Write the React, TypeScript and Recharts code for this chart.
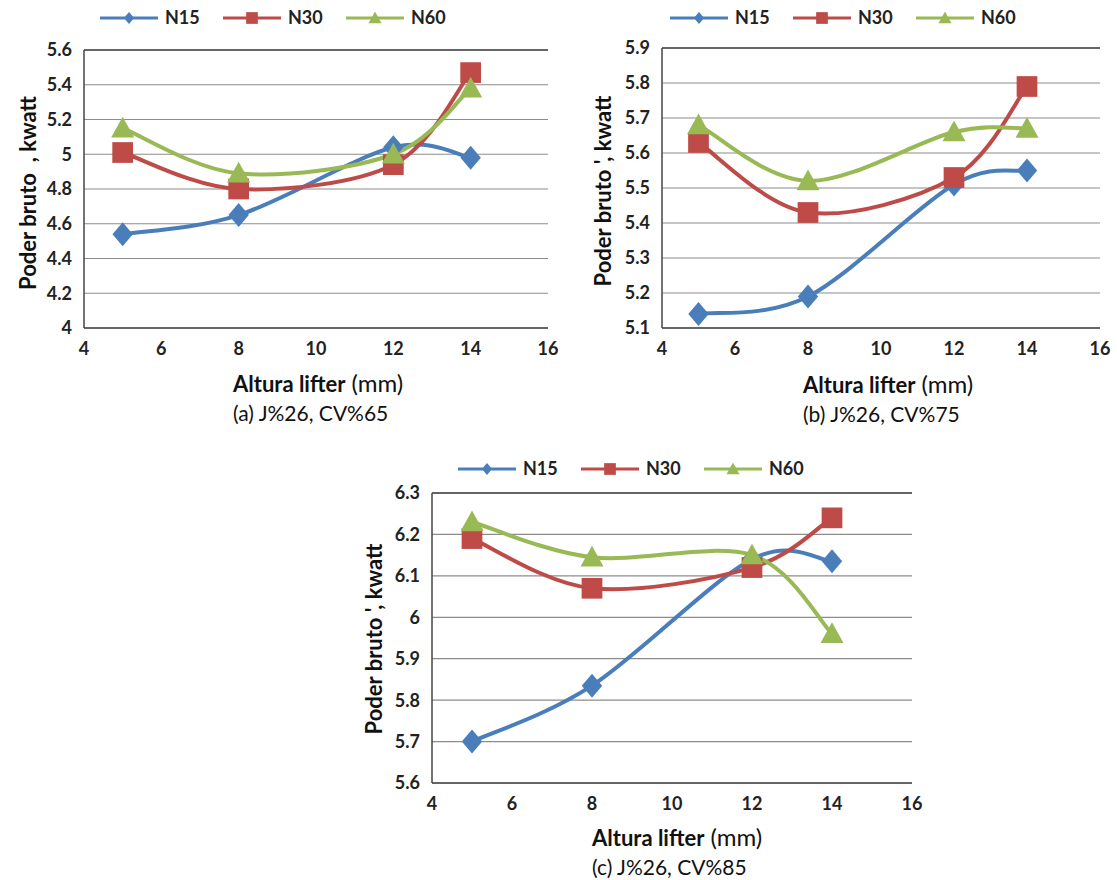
import React from 'react';
import { LineChart, Line, XAxis, YAxis, CartesianGrid, ReferenceLine } from 'recharts';

// lifter heights (mm)
const lifter = [5, 8, 12, 14];
const xTicks = [4, 6, 8, 10, 12, 14, 16];
const seriesNames = ['N15', 'N30', 'N60'];

// (a) J%26, CV%65
const n15A = [4.54, 4.65, 5.04, 4.98];
const n30A = [5.01, 4.8, 4.94, 5.47];
const n60A = [5.15, 4.89, 5.0, 5.38];
const yTicksA = [4, 4.2, 4.4, 4.6, 4.8, 5, 5.2, 5.4, 5.6];

// (b) J%26, CV%75
const n15B = [5.14, 5.19, 5.51, 5.55];
const n30B = [5.63, 5.43, 5.53, 5.79];
const n60B = [5.68, 5.52, 5.66, 5.67];
const yTicksB = [5.1, 5.2, 5.3, 5.4, 5.5, 5.6, 5.7, 5.8, 5.9];

// (c) J%26, CV%85
const n15C = [5.7, 5.835, 6.14, 6.135];
const n30C = [6.19, 6.07, 6.12, 6.24];
const n60C = [6.23, 6.145, 6.15, 5.96];
const yTicksC = [5.6, 5.7, 5.8, 5.9, 6, 6.1, 6.2, 6.3];

const colors = ['#4a7ebb', '#be4b48', '#98b954'];
const font = 'Lato, "Open Sans", sans-serif';

// Excel-like smoothing: catmull-rom style bezier through every point
const excelCurve = (context: any) => {
    let pts: number[][] = [];
    return {
        areaStart() {},
        areaEnd() {},
        lineStart() {
            pts = [];
        },
        point(x: number, y: number) {
            pts.push([+x, +y]);
        },
        lineEnd() {
            if (!pts.length) return;
            context.moveTo(pts[0][0], pts[0][1]);
            for (let i = 0; i < pts.length - 1; i++) {
                const p0 = pts[i - 1] || pts[i];
                const p1 = pts[i];
                const p2 = pts[i + 1];
                const p3 = pts[i + 2] || p2;
                context.bezierCurveTo(
                    p1[0] + (p2[0] - p0[0]) / 6,
                    p1[1] + (p2[1] - p0[1]) / 6,
                    p2[0] - (p3[0] - p1[0]) / 6,
                    p2[1] - (p3[1] - p1[1]) / 6,
                    p2[0],
                    p2[1]
                );
            }
        },
    };
};

const marker = (kind: number, cx: number, cy: number, s: number, fill: string, key?: string) => {
    if (kind === 0) {
        return <path key={key} d={`M${cx},${cy - s}L${cx + s * 0.85},${cy}L${cx},${cy + s}L${cx - s * 0.85},${cy}Z`} fill={fill} />;
    }
    if (kind === 1) {
        return <rect key={key} x={cx - s * 0.9} y={cy - s * 0.9} width={s * 1.8} height={s * 1.8} fill={fill} />;
    }
    return <path key={key} d={`M${cx},${cy - s}L${cx + s},${cy + s * 0.8}L${cx - s},${cy + s * 0.8}Z`} fill={fill} />;
};

const makeDot = (kind: number, fill: string) => (props: any) =>
    marker(kind, props.cx, props.cy, kind === 0 ? 12 : 11.5, fill, `dot-${kind}-${props.index}`);

const Legend = ({ left, top }: { left: number; top: number }) => (
    <div style={{ position: 'absolute', left, top }}>
        {seriesNames.map((name, i) => (
            <div key={name} style={{ position: 'absolute', left: i * 123, top: 0, width: 120, height: 20 }}>
                <svg width={60} height={20} style={{ position: 'absolute', left: 0, top: 0 }}>
                    <line x1={0} y1={10} x2={58} y2={10} stroke={colors[i]} strokeWidth={3} />
                    {marker(i, 29, 10, i === 0 ? 6 : 6.5, colors[i])}
                </svg>
                <span style={{ position: 'absolute', left: 65, top: -2, fontFamily: font, fontWeight: 700, fontSize: 18, color: '#222' }}>{name}</span>
            </div>
        ))}
    </div>
);

type PanelProps = {
    left: number;
    top: number;
    plotWidth: number;
    plotHeight: number;
    n15: number[];
    n30: number[];
    n60: number[];
    yTicks: number[];
    yLabel: string;
    caption: string;
    legendLeft: number;
    legendTop: number;
    labelX: number;
    labelY: number;
    titleX: number;
    titleY: number;
};

const yAxisW = 84;
const padTop = 15;

const Panel = (p: PanelProps) => {
    const rows = lifter.map((x, i) => ({ x, N15: p.n15[i], N30: p.n30[i], N60: p.n60[i] }));
    const yMin = p.yTicks[0];
    const yMax = p.yTicks[p.yTicks.length - 1];
    const chartW = yAxisW + p.plotWidth + 14;
    const chartH = p.plotHeight + 40 + padTop;
    return (
        <>
            <div style={{ position: 'absolute', left: p.left - yAxisW, top: p.top - padTop }}>
                <LineChart width={chartW} height={chartH} data={rows} margin={{ top: padTop, right: 14, bottom: 10, left: 0 }}>
                    <CartesianGrid horizontal vertical={false} stroke="#8c8c8c" strokeWidth={1.2} />
                    <ReferenceLine y={yMax} stroke="#444" strokeWidth={1.5} />
                    <XAxis
                        type="number"
                        dataKey="x"
                        domain={[4, 16]}
                        ticks={xTicks}
                        height={30}
                        tickLine={false}
                        stroke="#444"
                        strokeWidth={1.5}
                        tickMargin={8}
                        tick={{ fill: '#222', fontFamily: font, fontWeight: 700, fontSize: 18 }}
                        interval={0}
                    />
                    <YAxis
                        type="number"
                        domain={[yMin, yMax]}
                        ticks={p.yTicks}
                        width={yAxisW}
                        tickLine={false}
                        stroke="#444"
                        strokeWidth={1.5}
                        tickMargin={6}
                        tick={{ fill: '#222', fontFamily: font, fontWeight: 700, fontSize: 18 }}
                        interval={0}
                        allowDataOverflow
                    />
                    {seriesNames.map((name, i) => (
                        <Line
                            key={name}
                            type={excelCurve as any}
                            dataKey={name}
                            stroke={colors[i]}
                            strokeWidth={4}
                            dot={makeDot(i, colors[i])}
                            activeDot={false}
                            isAnimationActive={false}
                        />
                    ))}
                </LineChart>
            </div>
            <Legend left={p.legendLeft} top={p.legendTop} />
            <div
                style={{
                    position: 'absolute',
                    left: p.labelX - 150,
                    top: p.labelY - 13,
                    width: 300,
                    textAlign: 'center',
                    transform: 'rotate(-90deg)',
                    fontFamily: font,
                    fontWeight: 700,
                    fontSize: 22,
                    whiteSpace: 'pre',
                    color: '#111',
                    lineHeight: '26px',
                }}
            >
                {p.yLabel}
            </div>
            <div style={{ position: 'absolute', left: p.titleX, top: p.titleY, fontFamily: font, color: '#111', whiteSpace: 'pre' }}>
                <div style={{ lineHeight: '27px' }}>
                    <span style={{ fontWeight: 700, fontSize: 22 }}>Altura lifter</span>
                    <span style={{ fontSize: 24 }}> (mm)</span>
                </div>
                <div style={{ fontSize: 21, lineHeight: '27px' }}>{p.caption}</div>
            </div>
        </>
    );
};

export default function App() {
    return (
        <div style={{ position: 'absolute', left: 0, top: 0, width: 1117, height: 880, background: '#fff', overflow: 'hidden' }}>
            <Panel
                left={84}
                top={50}
                plotWidth={464}
                plotHeight={278}
                n15={n15A}
                n30={n30A}
                n60={n60A}
                yTicks={yTicksA}
                yLabel={'Poder bruto  , kwatt'}
                caption="(a) J%26, CV%65"
                legendLeft={100}
                legendTop={8}
                labelX={28}
                labelY={193}
                titleX={233}
                titleY={369}
            />
            <Panel
                left={662}
                top={48}
                plotWidth={438}
                plotHeight={280}
                n15={n15B}
                n30={n30B}
                n60={n60B}
                yTicks={yTicksB}
                yLabel={"Poder bruto ', kwatt"}
                caption="(b) J%26, CV%75"
                legendLeft={670}
                legendTop={8}
                labelX={603}
                labelY={191}
                titleX={803}
                titleY={370}
            />
            <Panel
                left={432}
                top={493}
                plotWidth={480}
                plotHeight={290}
                n15={n15C}
                n30={n30C}
                n60={n60C}
                yTicks={yTicksC}
                yLabel={"Poder bruto ', kwatt"}
                caption="(c) J%26, CV%85"
                legendLeft={458}
                legendTop={459}
                labelX={374}
                labelY={639}
                titleX={592}
                titleY={823}
            />
        </div>
    );
}
